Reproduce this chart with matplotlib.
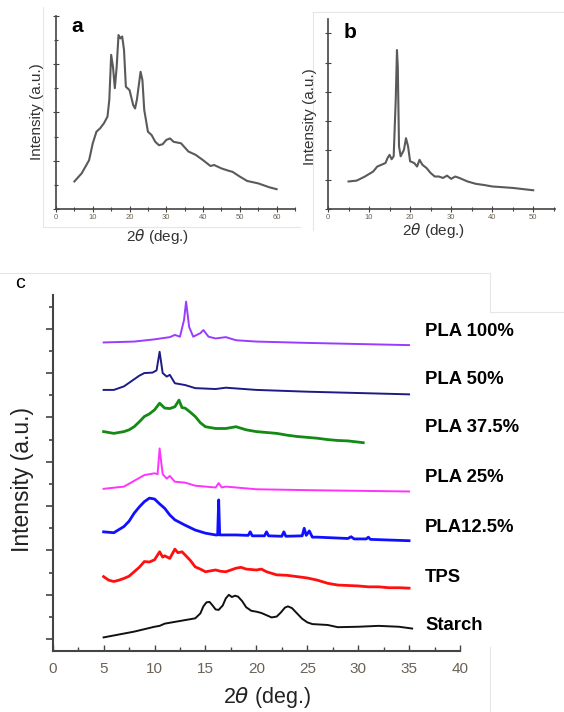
import matplotlib
matplotlib.use("Agg")
import matplotlib.pyplot as plt
from matplotlib.ticker import MultipleLocator, NullFormatter

plt.rcParams['font.family'] = ['Liberation Sans', 'DejaVu Sans']
plt.rcParams['mathtext.fontset'] = 'dejavusans'

# ---------------- data: panel a (starch raw) ----------------
a_x = [5, 7, 9, 10, 11, 12, 13, 14, 14.5, 15, 15.5, 16, 16.5, 17, 17.5, 18, 18.5, 19, 20, 21, 21.5,
       22, 23, 23.5, 24, 25, 26, 27, 28, 29, 30, 31, 32, 34, 36, 38, 40, 42, 43, 45, 47, 48, 50,
       52, 55, 58, 60]
a_y = [0.57, 0.74, 1.01, 1.36, 1.60, 1.67, 1.77, 1.91, 2.26, 3.19, 2.94, 2.50, 2.94, 3.60, 3.53, 3.57,
       3.29, 2.53, 2.46, 2.15, 2.08, 2.26, 2.84, 2.67, 2.05, 1.60, 1.53, 1.39, 1.32, 1.34, 1.43, 1.46,
       1.39, 1.36, 1.19, 1.12, 1.01, 0.89, 0.91, 0.84, 0.79, 0.77, 0.67, 0.58, 0.53, 0.45, 0.41]

# ---------------- data: panel b (PLA raw) ----------------
b_x = [5, 7, 9, 11, 12, 13, 14, 14.5, 15, 15.5, 16, 16.5, 16.8, 17, 17.3, 17.7, 18.5, 19, 19.5, 20,
       21, 21.7, 22.3, 23, 24, 25, 26, 27, 28, 29, 30, 31, 32, 34, 36, 38, 40, 45, 50]
b_y = [0.94, 0.97, 1.11, 1.28, 1.45, 1.51, 1.57, 1.74, 1.85, 1.70, 1.80, 3.73, 5.43, 4.86, 2.14, 1.80,
       2.02, 2.42, 2.14, 1.63, 1.57, 1.45, 1.68, 1.51, 1.40, 1.23, 1.11, 1.11, 1.06, 1.14, 1.03, 1.11,
       1.06, 0.94, 0.86, 0.82, 0.77, 0.72, 0.64]

# ---------------- data: panel c (stacked patterns) ----------------
starch_x = [5, 8, 10, 10.5, 11, 12, 13, 14, 14.5, 14.8, 15.1, 15.4, 15.7, 16.0, 16.3, 16.7, 17.0, 17.3,
            17.6, 17.9, 18.2, 18.6, 19.0, 19.5, 20.0, 20.5, 21, 21.5, 22, 22.4, 22.8, 23.1, 23.5, 24,
            24.5, 25, 25.5, 27, 28, 30, 32, 34, 35.3]
starch_y = [0.04, 0.17, 0.28, 0.30, 0.35, 0.39, 0.43, 0.47, 0.58, 0.74, 0.83, 0.84, 0.76, 0.67, 0.66,
            0.76, 0.92, 1.00, 0.95, 0.98, 0.96, 0.86, 0.72, 0.64, 0.62, 0.59, 0.54, 0.49, 0.51, 0.60,
            0.71, 0.74, 0.70, 0.58, 0.46, 0.38, 0.34, 0.32, 0.27, 0.28, 0.30, 0.28, 0.24]

tps_x = [5, 5.5, 6, 6.5, 7, 7.5, 8, 8.5, 9, 9.5, 10, 10.5, 10.8, 11, 11.5, 12, 12.3, 12.7, 13, 13.5, 14,
         14.5, 15, 15.5, 16, 16.5, 17, 17.5, 18, 18.5, 19, 20, 20.5, 21, 22, 23, 24, 25, 26, 27, 28,
         29, 30, 31, 32, 33, 34, 35]
tps_y = [1.41, 1.33, 1.30, 1.33, 1.37, 1.42, 1.52, 1.62, 1.75, 1.74, 1.79, 1.97, 1.85, 1.88, 1.82, 2.03,
         1.95, 1.97, 1.90, 1.78, 1.63, 1.58, 1.52, 1.54, 1.56, 1.53, 1.52, 1.56, 1.60, 1.62, 1.58, 1.56,
         1.58, 1.52, 1.45, 1.44, 1.41, 1.38, 1.33, 1.26, 1.22, 1.21, 1.20, 1.18, 1.18, 1.16, 1.16, 1.15]

p125_x = [5, 6, 7, 7.5, 8, 8.5, 9, 9.5, 10, 10.5, 11, 11.5, 12, 13, 14, 15, 16, 16.2, 16.3, 16.4, 18,
          19.2, 19.4, 19.6, 20.8, 21.0, 21.2, 22.5, 22.7, 22.9, 24.5, 24.7, 24.9, 25.2, 25.5, 26, 29,
          29.3, 29.6, 30.8, 31, 31.2, 35]
p125_y = [2.42, 2.40, 2.54, 2.66, 2.84, 2.98, 3.10, 3.18, 3.16, 3.05, 2.95, 2.80, 2.69, 2.57, 2.46, 2.39,
          2.35, 2.35, 3.14, 2.35, 2.35, 2.34, 2.42, 2.33, 2.33, 2.42, 2.33, 2.32, 2.42, 2.32, 2.33, 2.50,
          2.34, 2.44, 2.30, 2.30, 2.27, 2.31, 2.26, 2.26, 2.30, 2.25, 2.22]

p25_x = [5, 7, 8, 9, 10, 10.3, 10.5, 10.8, 11.2, 11.5, 11.8, 12, 13, 14, 16, 16.3, 16.6, 17, 20, 25, 35]
p25_y = [3.39, 3.44, 3.57, 3.70, 3.74, 3.72, 4.30, 3.72, 3.62, 3.68, 3.60, 3.55, 3.53, 3.46, 3.42, 3.52,
         3.42, 3.44, 3.38, 3.36, 3.33]

p375_x = [5, 6, 7, 7.5, 8, 8.5, 9, 9.5, 10, 10.5, 11, 11.5, 12, 12.4, 12.7, 13, 13.5, 14, 14.5, 15, 16,
          17, 18, 19, 20, 21, 22, 23, 24, 25, 26, 27, 28, 29, 30.5]
p375_y = [4.68, 4.64, 4.68, 4.72, 4.79, 4.90, 5.02, 5.08, 5.17, 5.32, 5.21, 5.20, 5.24, 5.39, 5.22, 5.21,
          5.12, 5.02, 4.88, 4.79, 4.75, 4.75, 4.79, 4.72, 4.68, 4.66, 4.64, 4.60, 4.57, 4.55, 4.53, 4.50,
          4.48, 4.47, 4.43]

p50_x = [5, 6, 7, 8, 8.5, 9, 9.8, 10.2, 10.5, 10.8, 11.2, 11.5, 12, 13, 14, 16, 17, 20, 25, 35]
p50_y = [5.62, 5.62, 5.70, 5.86, 5.94, 6.00, 6.01, 6.06, 6.48, 6.00, 5.92, 5.96, 5.77, 5.73, 5.66, 5.64,
         5.67, 5.62, 5.58, 5.52]

p100_x = [5, 8, 10, 11.5, 12, 12.5, 12.9, 13.1, 13.4, 13.8, 14.5, 14.8, 15.3, 16, 17, 18, 20, 25, 35]
p100_y = [6.69, 6.71, 6.76, 6.81, 6.86, 6.82, 7.20, 7.61, 7.04, 6.82, 6.90, 6.97, 6.82, 6.78, 6.81, 6.74,
          6.71, 6.68, 6.63]

series_labels = ['Starch', 'TPS', 'PLA12.5%', 'PLA 25%', 'PLA 37.5%', 'PLA 50%', 'PLA 100%']
series_colors = ['#111111', '#ff1010', '#1010ff', '#ff33ff', '#138a13', '#1c1c84', '#9a3cff']
series_x = [starch_x, tps_x, p125_x, p25_x, p375_x, p50_x, p100_x]
series_y = [starch_y, tps_y, p125_y, p25_y, p375_y, p50_y, p100_y]
label_ypix = [626, 577, 527, 478, 428, 379, 331]

W, H = 564, 712
fig = plt.figure(figsize=(W / 100, H / 100), dpi=100)
fig.patch.set_facecolor('white')


def fx(px):
    return px / W


def fy(py):
    return 1 - py / H


def add_axes_px(left, top, right, bottom):
    return fig.add_axes([fx(left), fy(bottom), (right - left) / W, (bottom - top) / H])


def frame_line(xs, ys):
    fig.add_artist(plt.Line2D([fx(v) for v in xs], [fy(v) for v in ys], color='#e6e6e6', lw=0.8))


# faint panel frames
frame_line([43, 43, 300], [7, 227, 227])
frame_line([313, 313], [230, 12])
frame_line([313, 564], [12, 12])
frame_line([0, 490, 490, 564], [273, 273, 312, 312])
frame_line([490, 490], [647, 712])

spine_col = '#444444'
tick_col = '#6b6156'


def style_axes(ax, lw):
    for s in ['top', 'right']:
        ax.spines[s].set_visible(False)
    for s in ['left', 'bottom']:
        ax.spines[s].set_color(spine_col)
        ax.spines[s].set_linewidth(lw)
    ax.set_facecolor('none')


# ---------------- panel a ----------------
axa = add_axes_px(56, 15.7, 295, 209)
axa.plot(a_x, a_y, color='#5a5a5a', lw=1.5)
axa.set_xlim(0, 65)
axa.set_ylim(0, 4)
style_axes(axa, 1.2)
axa.xaxis.set_major_locator(MultipleLocator(10))
axa.xaxis.set_minor_locator(MultipleLocator(5))
axa.yaxis.set_major_locator(MultipleLocator(1))
axa.yaxis.set_minor_locator(MultipleLocator(0.5))
axa.yaxis.set_major_formatter(NullFormatter())
axa.tick_params(axis='both', which='both', direction='inout', color=spine_col, width=0.8)
axa.tick_params(axis='both', which='major', length=4)
axa.tick_params(axis='both', which='minor', length=2.5)
axa.tick_params(axis='x', labelsize=5.5, labelcolor=tick_col, pad=1.5)
fig.text(fx(77), fy(27), 'a', fontsize=15, fontweight='bold', ha='center', va='center')
fig.text(fx(37), fy(112), 'Intensity (a.u.)', rotation=90, fontsize=11, color='#333333',
         ha='center', va='center')
fig.text(fx(157), fy(237), r'2$\theta$ (deg.)', fontsize=11, color='#333333', ha='center', va='center')

# ---------------- panel b ----------------
axb = add_axes_px(328, 19.3, 555, 209)
axb.plot(b_x, b_y, color='#5a5a5a', lw=1.5)
axb.set_xlim(0, 55.3)
axb.set_ylim(0, 6.48)
style_axes(axb, 1.2)
axb.xaxis.set_major_locator(MultipleLocator(10))
axb.xaxis.set_minor_locator(MultipleLocator(5))
axb.yaxis.set_major_locator(MultipleLocator(1))
axb.yaxis.set_major_formatter(NullFormatter())
axb.tick_params(axis='both', which='both', direction='inout', color=spine_col, width=0.8)
axb.tick_params(axis='both', which='major', length=4)
axb.tick_params(axis='both', which='minor', length=2.5)
axb.tick_params(axis='x', labelsize=5.5, labelcolor=tick_col, pad=1.5)
fig.text(fx(350), fy(32), 'b', fontsize=15, fontweight='bold', ha='center', va='center')
fig.text(fx(310), fy(117), 'Intensity (a.u.)', rotation=90, fontsize=11, color='#333333',
         ha='center', va='center')
fig.text(fx(433), fy(230), r'2$\theta$ (deg.)', fontsize=11, color='#333333', ha='center', va='center')

# ---------------- panel c ----------------
axc = add_axes_px(52.7, 295, 460, 650.7)
for xs, ys, col, lab, ly in zip(series_x, series_y, series_colors, series_labels, label_ypix):
    noisy = lab in ('TPS', 'PLA 37.5%', 'PLA12.5%')
    axc.plot(xs, ys, color=col, lw=2.0 if noisy else 1.4, solid_joinstyle='round')
    fig.text(fx(425), fy(ly), lab, fontsize=13.3, fontweight='bold', ha='left', va='center')
axc.set_xlim(0, 40)
axc.set_ylim(-0.26, 7.76)
style_axes(axc, 1.5)
axc.xaxis.set_major_locator(MultipleLocator(5))
axc.xaxis.set_minor_locator(MultipleLocator(2.5))
axc.yaxis.set_major_locator(MultipleLocator(1))
axc.yaxis.set_minor_locator(MultipleLocator(0.5))
axc.yaxis.set_major_formatter(NullFormatter())
axc.tick_params(axis='x', which='both', direction='in', color=spine_col, width=1.0)
axc.tick_params(axis='x', which='major', length=4)
axc.tick_params(axis='x', which='minor', length=3)
axc.tick_params(axis='y', which='both', direction='out', color=spine_col, width=1.2)
axc.tick_params(axis='y', which='major', length=5)
axc.tick_params(axis='y', which='minor', length=3)
axc.tick_params(axis='x', labelsize=11, labelcolor=tick_col, pad=8)
fig.text(fx(20), fy(283), 'c', fontsize=14, ha='center', va='center')
fig.text(fx(22), fy(480), 'Intensity (a.u.)', rotation=90, fontsize=16.5, color='#222222',
         ha='center', va='center')
fig.text(fx(267), fy(697), r'2$\theta$ (deg.)', fontsize=15.5, color='#222222', ha='center', va='center')

fig.savefig('out.png', dpi=100, facecolor='white')
